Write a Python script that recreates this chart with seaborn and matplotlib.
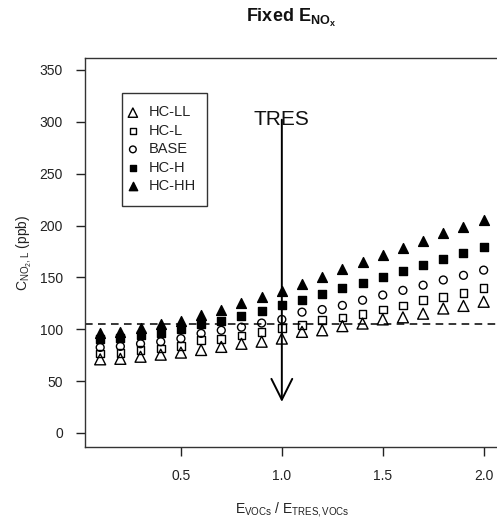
import numpy as np
import pandas as pd
import matplotlib
matplotlib.use("Agg")
import matplotlib.pyplot as plt
import seaborn as sns
from matplotlib.patches import Rectangle, ArrowStyle

sns.set_theme(style="ticks")
plt.rcParams["font.family"] = ["Liberation Sans", "DejaVu Sans"]
plt.rcParams["mathtext.fontset"] = "custom"
plt.rcParams["mathtext.rm"] = "Liberation Sans"
plt.rcParams["mathtext.bf"] = "Liberation Sans:bold"
plt.rcParams["mathtext.it"] = "Liberation Sans:italic"
plt.rcParams["mathtext.sf"] = "Liberation Sans"

# ---- data ----
ratio = [0.1, 0.2, 0.3, 0.4, 0.5, 0.6, 0.7, 0.8, 0.9, 1.0,
         1.1, 1.2, 1.3, 1.4, 1.5, 1.6, 1.7, 1.8, 1.9, 2.0]
hc_ll = [71, 71.5, 73.5, 75.5, 77.5, 80, 83, 86, 88, 91,
         97.5, 99, 103, 105.5, 109.5, 111.5, 115, 120, 122.5, 126.5]
hc_l = [76.5, 77, 80, 81.5, 84, 89.5, 90.5, 94, 97.5, 101,
        104, 109, 111.5, 115, 119, 123, 128, 131, 135, 139.5]
base = [82.5, 83.5, 86, 88, 91, 96, 99, 102, 106, 109.5,
        116.5, 119, 123, 128, 133, 137.5, 142.5, 147.5, 152, 157]
hc_h = [91, 91.5, 94.5, 96.5, 100, 105, 108, 112.5, 118, 123,
        128, 134, 139.5, 145, 150, 156.5, 162, 167.5, 173.5, 179.5]
hc_hh = [96.5, 97, 101, 105, 108, 114, 119, 125, 131, 137,
         144, 150, 158, 164.5, 171.5, 178, 185, 192.5, 199, 205.5]
series_names = ["HC-LL", "HC-L", "BASE", "HC-H", "HC-HH"]
threshold = 105
tres_x = 1.0
y_ticks = [0, 50, 100, 150, 200, 250, 300, 350]
x_ticks = [0.5, 1.0, 1.5, 2.0]
x_tick_labels = ["0.5", "1.0", "1.5", "2.0"]

df = pd.DataFrame({
    "ratio": ratio * 5,
    "conc": hc_ll + hc_l + base + hc_h + hc_hh,
    "case": [n for n in series_names for _ in ratio],
})

styles = {
    "HC-LL": dict(marker="^", facecolor="none", s=62),
    "HC-L": dict(marker="s", facecolor="none", s=30),
    "BASE": dict(marker="o", facecolor="none", s=32),
    "HC-H": dict(marker="s", facecolor="black", s=30),
    "HC-HH": dict(marker="^", facecolor="black", s=50),
}

fig = plt.figure(figsize=(4.97, 5.22), dpi=100)
ax = fig.add_axes([85 / 497, 1 - 447 / 522, (499 - 85) / 497, (447 - 58) / 522])

for name in series_names:
    st = styles[name]
    sub = df[df["case"] == name]
    sns.scatterplot(data=sub, x="ratio", y="conc", ax=ax, marker=st["marker"],
                    s=st["s"], facecolor=st["facecolor"], edgecolor="black",
                    linewidth=1.0, label=name, zorder=3)

ax.axhline(threshold, color="black", lw=1.1, ls=(0, (5, 3.5)), zorder=2)

ax.annotate("", xy=(tres_x, 30), xytext=(tres_x, 302),
            arrowprops=dict(arrowstyle=ArrowStyle("->", head_length=1.5, head_width=0.75),
                            lw=1.4, color="black", mutation_scale=10,
                            shrinkA=0, shrinkB=0), zorder=4)
ax.text(tres_x, 302, "TRES", ha="center", va="center", fontsize=15, color="#111111")

ax.set_xlim(0.0248, 2.076)
ax.set_ylim(-13.5, 361.5)
ax.set_xticks(x_ticks)
ax.set_xticklabels(x_tick_labels)
ax.set_yticks(y_ticks)
ax.tick_params(axis="both", length=6.5, width=1.0, pad=9.5, labelsize=10,
               colors="#222222")
for sp in ax.spines.values():
    sp.set_linewidth(1.0)
    sp.set_color("#333333")

ax.set_xlabel(r"$\mathrm{E_{VOCs}}$ / $\mathrm{E_{TRES,VOCs}}$", fontsize=10, color="#222222")
ax.set_ylabel(r"$\mathrm{C_{NO_2,L}}$ (ppb)", fontsize=10, color="#222222")
ax.xaxis.set_label_coords(0.5, -0.135)
ax.yaxis.set_label_coords(-0.123, 0.5)

fig.text((85 + 497) / 2 / 497, 1 - 18 / 522, r"Fixed $\mathbf{E_{NO_x}}$",
         ha="center", va="center", fontsize=13, fontweight="bold", color="#111111")

leg = ax.legend(loc="upper left", bbox_to_anchor=(0.098, 0.878), frameon=False,
                borderpad=0, borderaxespad=0, handlelength=1.0, handletextpad=0.6,
                labelspacing=0.3, fontsize=10.5, markerscale=0.85)
for t in leg.get_texts():
    t.set_color("#222222")
ax.add_patch(Rectangle((0.0898, 0.620), 0.205, 0.29, transform=ax.transAxes,
                       fill=False, edgecolor="#333333", lw=1.0, zorder=5))

fig.savefig("out.png", dpi=100)
